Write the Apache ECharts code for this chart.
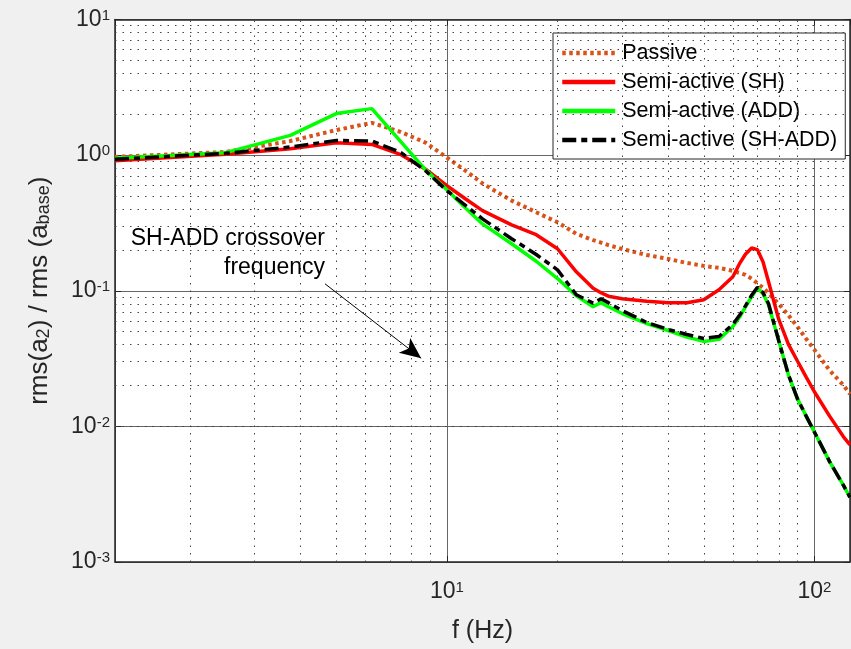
<!DOCTYPE html>
<html><head><meta charset="utf-8">
<script src="https://cdn.jsdelivr.net/npm/echarts@6/dist/echarts.min.js"></script>
<style>html,body{margin:0;padding:0;background:#f0f0f0}#c{width:851px;height:649px}</style>
</head><body><div id="c"></div>
<script>
// ---- data ----
const freq = [1.25,2.5,3.75,5,6.25,7.5,8.75,10,11.25,12.5,15,17.5,20,22.5,25,26.25,27.5,30,35,40,45,50,55,60,62.5,65,67.5,70,72.5,75,80,85,90,95,100,110,120,125];
const passive = [0.97,1.055,1.27,1.53,1.73,1.48,1.235,0.959,0.766,0.618,0.462,0.379,0.320,0.263,0.2365,0.2266,0.217,0.203,0.1836,0.1716,0.1603,0.1525,0.1474,0.140,0.1355,0.131,0.1225,0.1135,0.105,0.096,0.080,0.0659,0.054,0.0442,0.0367,0.0259,0.0201,0.0173];
const semiSH = [0.907,1.014,1.116,1.235,1.20,1.008,0.787,0.595,0.475,0.390,0.306,0.259,0.204,0.1378,0.1043,0.0967,0.0912,0.0874,0.0838,0.0817,0.0817,0.0859,0.1017,0.1267,0.1577,0.1867,0.2065,0.201,0.163,0.117,0.0614,0.0402,0.0302,0.0231,0.018,0.0119,0.00838,0.00731];
const semiADD = [0.947,1.043,1.397,2.024,2.202,1.251,0.779,0.556,0.406,0.311,0.222,0.165,0.123,0.0919,0.0763,0.0817,0.0763,0.0679,0.0573,0.0509,0.0456,0.0423,0.0438,0.0545,0.0634,0.0763,0.0904,0.105,0.095,0.079,0.0427,0.0240,0.0159,0.0119,0.0091,0.0055,0.00367,0.0030];
const semiSHADD = [0.932,1.031,1.148,1.283,1.27,1.043,0.766,0.547,0.425,0.339,0.242,0.185,0.1426,0.0935,0.081,0.0874,0.0817,0.0714,0.0583,0.0518,0.0476,0.0445,0.046,0.0564,0.0656,0.0776,0.0927,0.106,0.0967,0.0805,0.0427,0.0240,0.0159,0.0119,0.0091,0.0055,0.00367,0.0030];
const seriesNames = ['Passive','Semi-active (SH)','Semi-active (ADD)','Semi-active (SH-ADD)'];
const xMinorGrid = [2,3,4,5,6,7,8,9,20,30,40,50,60,70,80,90];
const yMinorGrid = [0.002,0.003,0.004,0.005,0.006,0.007,0.008,0.009,0.02,0.03,0.04,0.05,0.06,0.07,0.08,0.09,0.2,0.3,0.4,0.5,0.6,0.7,0.8,0.9,2,3,4,5,6,7,8,9];
const xRange = [1.25, 125];
const yRange = [0.001, 10];
const annotationLines = ['SH-ADD crossover', 'frequency'];
const arrowFrom = [4.66, 0.1125];
const arrowTo = [8.51, 0.0318];

// ---- chart ----
const FONT = "'Liberation Sans', Arial, Helvetica, sans-serif";
const INK = '#262626';
const pairs = vals => freq.map((f, i) => [f, vals[i]]);
const powLabel = v => {
  const e = Math.round(Math.log10(v));
  return '{b|10}{s|' + e + '}';
};
const labelRich = {
  b: {fontSize: 23, fontFamily: FONT, color: INK, lineHeight: 23, padding: [8, 0, 0, 0], verticalAlign: 'bottom'},
  s: {fontSize: 15, fontFamily: FONT, color: INK, lineHeight: 15, verticalAlign: 'top'}
};

const chart = echarts.init(document.getElementById('c'), null, {renderer: 'canvas'});
const option = {
  backgroundColor: '#f0f0f0',
  animation: false,
  grid: {left: 115, top: 16, right: 1, bottom: 87, show: true, backgroundColor: '#ffffff', borderWidth: 0},
  xAxis: [{
    type: 'log', logBase: 10, min: xRange[0], max: xRange[1], splitNumber: 2,
    axisLine: {show: true, lineStyle: {color: INK, width: 1.5}},
    axisTick: {show: true, inside: true, length: 6, lineStyle: {color: INK}},
    axisLabel: {margin: 18, showMinLabel: false, showMaxLabel: false, formatter: powLabel, rich: labelRich},
    splitLine: {show: true, lineStyle: {color: '#666', width: 1}},
    name: 'f (Hz)', nameLocation: 'middle', nameGap: 57,
    nameTextStyle: {fontSize: 25, fontFamily: FONT, color: INK}
  }, {
    type: 'log', logBase: 10, min: xRange[0], max: xRange[1], splitNumber: 2, position: 'top',
    axisLine: {show: true, lineStyle: {color: INK, width: 1.5}},
    axisTick: {show: true, inside: true, length: 6, lineStyle: {color: INK}},
    axisLabel: {show: false}, splitLine: {show: false}
  }],
  yAxis: [{
    type: 'log', logBase: 10, min: yRange[0], max: yRange[1], splitNumber: 4,
    axisLine: {show: true, lineStyle: {color: INK, width: 1.5}},
    axisTick: {show: true, inside: true, length: 6, lineStyle: {color: INK}},
    axisLabel: {margin: 5, formatter: powLabel, rich: labelRich},
    splitLine: {show: true, lineStyle: {color: '#666', width: 1}},
    name: '{m|rms(a}{u|2}{m|) / rms (a}{u|base}{m|)}', nameLocation: 'middle', nameGap: 60, nameRotate: 90,
    nameTextStyle: {
      rich: {
        m: {fontSize: 26, fontFamily: FONT, color: INK, lineHeight: 26, padding: [0, 0, 7, 0], verticalAlign: 'top'},
        u: {fontSize: 18, fontFamily: FONT, color: INK, lineHeight: 18, verticalAlign: 'bottom'}
      }
    }
  }, {
    type: 'log', logBase: 10, min: yRange[0], max: yRange[1], splitNumber: 4, position: 'right',
    axisLine: {show: true, lineStyle: {color: INK, width: 1.5}},
    axisTick: {show: true, inside: true, length: 6, lineStyle: {color: INK}},
    axisLabel: {show: false}, splitLine: {show: false}
  }],
  legend: {
    data: seriesNames, orient: 'vertical', left: 553, top: 33,
    itemWidth: 53, itemHeight: 14, itemGap: 7, padding: [9, 8, 8, 7],
    backgroundColor: '#ffffff', borderColor: INK, borderWidth: 1, borderRadius: 0,
    itemStyle: {color: 'rgba(0,0,0,0)', borderColor: 'rgba(0,0,0,0)', borderWidth: 0},
    lineStyle: {width: 4.5},
    textStyle: {fontSize: 21.5, fontFamily: FONT, color: '#000', padding: [0, 0, 0, 2]}
  },
  graphic: [
    {type: 'text', x: 325, y: 239, z: 100, style: {text: annotationLines[0], fill: '#000', font: '23px ' + FONT, textAlign: 'right', textVerticalAlign: 'middle'}},
    {type: 'text', x: 325, y: 268, z: 100, style: {text: annotationLines[1], fill: '#000', font: '23px ' + FONT, textAlign: 'right', textVerticalAlign: 'middle'}}
  ],
  series: [
    {
      type: 'line', name: '_grid', data: [], z: 1, silent: true,
      markLine: {
        silent: true, symbol: ['none', 'none'], label: {show: false}, animation: false,
        lineStyle: {color: '#444', width: 1, type: [1.5, 6]},
        data: xMinorGrid.map(v => ({xAxis: v})).concat(yMinorGrid.map(v => ({yAxis: v})))
      }
    },
    {
      type: 'line', name: '_arrow', data: [], z: 10, silent: true,
      markLine: {
        silent: true, symbol: ['none', 'arrow'], symbolSize: [14, 21], label: {show: false}, animation: false,
        lineStyle: {color: '#000', width: 1, type: 'solid'},
        data: [[{coord: arrowFrom}, {coord: arrowTo}]]
      }
    },
    {type: 'line', name: seriesNames[0], data: pairs(passive), symbol: 'none', z: 3,
     lineStyle: {color: '#D95319', width: 4, type: [3.5, 3.5], cap: 'butt'}, itemStyle: {color: '#D95319'}},
    {type: 'line', name: seriesNames[1], data: pairs(semiSH), symbol: 'none', z: 4,
     lineStyle: {color: '#FF0000', width: 3.5}, itemStyle: {color: '#FF0000'}},
    {type: 'line', name: seriesNames[2], data: pairs(semiADD), symbol: 'none', z: 5,
     lineStyle: {color: '#00FF00', width: 3.5}, itemStyle: {color: '#00FF00'}},
    {type: 'line', name: seriesNames[3], data: pairs(semiSHADD), symbol: 'none', z: 6,
     lineStyle: {color: '#000000', width: 3.5, type: [14, 5, 6, 5]}, itemStyle: {color: '#000000'}}
  ]
};
chart.setOption(option);
</script>
</body></html>
